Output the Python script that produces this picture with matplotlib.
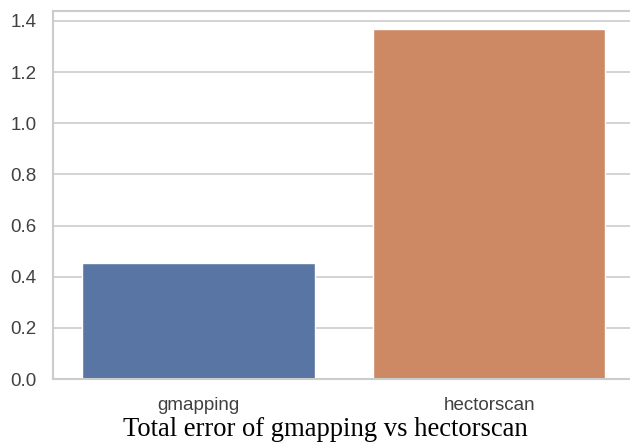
import matplotlib
matplotlib.use("Agg")
import matplotlib.pyplot as plt
import seaborn as sns

methods = ["gmapping", "hectorscan"]
total_error = [0.455, 1.368]
yticks = [0.0, 0.2, 0.4, 0.6, 0.8, 1.0, 1.2, 1.4]

sns.set_theme(style="whitegrid")
plt.rcParams['font.family'] = ['Liberation Sans', 'DejaVu Sans']

fig = plt.figure(figsize=(6.3, 4.44), dpi=100)
# axes runs a little past the right edge, as in the cropped original
ax = fig.add_axes([53/630, 65/444, 581.5/630, 368/444])
sns.barplot(x=methods, y=total_error, hue=methods, palette="deep",
            saturation=0.75, legend=False, ax=ax)
ax.set_xlim(-0.5, 1.5)
ax.set_ylim(0, 1.439)
ax.set_yticks(yticks)
ax.set_yticklabels([f"{v:.1f}" for v in yticks])
ax.tick_params(axis='both', labelsize=13.5, colors='0.25', pad=6)
ax.tick_params(axis='x', pad=7)
for s in ax.spines.values():
    s.set_color('0.8')
    s.set_linewidth(1.5)
ax.grid(axis='x', visible=False)
ax.grid(axis='y', color='0.8', linewidth=1.2)

fig.text(325/630, 1 - 436/444, "Total error of gmapping vs hectorscan",
         ha='center', va='baseline', fontsize=19.2, color='black',
         family=['Liberation Serif', 'DejaVu Serif'])

fig.savefig("out.png", dpi=100)
